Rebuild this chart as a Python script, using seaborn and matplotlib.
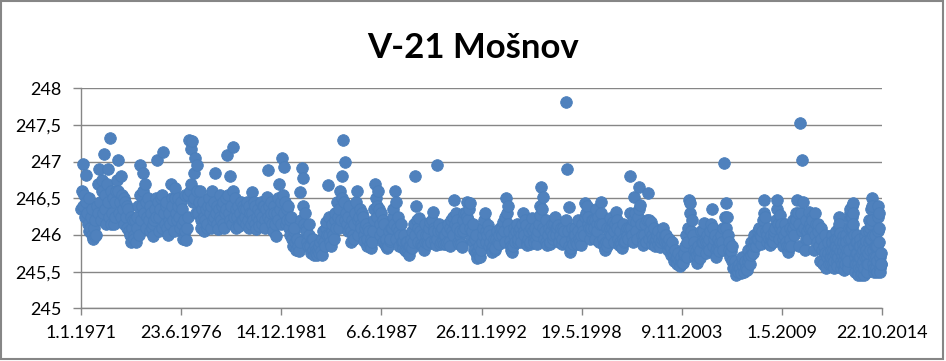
import numpy as np
import pandas as pd
import matplotlib
matplotlib.use("Agg")
import matplotlib.pyplot as plt
import seaborn as sns
from matplotlib.patches import Rectangle

# ---------------- data ----------------
title = "V-21 Mošnov"

# monthly readings 1971-01 .. 2011-12 (groundwater level, m a.s.l.)
levels_monthly = [
    # 1971
    246.35, 246.97, 246.55, 246.82, 246.30, 246.50, 246.10, 246.35, 245.95, 246.20, 246.00, 246.30,
    # 1972
    246.90, 246.20, 246.60, 247.11, 246.35, 246.70, 246.90, 247.32, 246.15, 246.50, 246.25, 246.60,
    # 1973
    247.02, 246.30, 246.80, 246.55, 246.15, 246.45, 246.10, 246.35, 246.00, 245.90, 246.20, 245.95,
    # 1974
    245.90, 246.25, 246.00, 246.95, 246.40, 246.85, 246.70, 246.10, 246.50, 246.05, 246.30, 245.98,
    # 1975
    246.20, 246.50, 247.02, 246.05, 246.35, 246.55, 247.13, 246.15, 246.45, 246.00, 246.30, 246.70,
    # 1976
    246.40, 246.05, 246.64, 246.20, 246.50, 246.10, 246.35, 245.95, 246.55, 245.93, 246.25, 247.30,
    # 1977
    247.17, 247.28, 246.50, 247.05, 246.95, 246.30, 246.60, 246.10, 246.45, 246.05, 246.35, 246.15,
    # 1978
    246.50, 246.10, 246.60, 246.25, 246.84, 246.40, 246.08, 246.55, 246.20, 246.45, 246.10, 246.35,
    # 1979
    247.09, 246.30, 246.80, 246.15, 247.20, 246.50, 246.10, 246.40, 246.12, 246.45, 246.20, 246.35,
    # 1980
    246.15, 246.45, 246.10, 246.30, 246.59, 246.20, 246.40, 246.08, 246.35, 246.12, 246.45, 246.25,
    # 1981
    246.40, 246.10, 246.52, 246.89, 246.20, 246.45, 246.05, 246.30, 245.98, 246.50, 246.70, 246.15,
    # 1982
    247.05, 246.93, 246.45, 246.20, 246.40, 246.00, 246.25, 245.85, 246.10, 245.80, 245.95, 245.78,
    # 1983
    246.59, 246.91, 246.77, 246.30, 246.05, 245.85, 246.15, 245.75, 245.95, 245.72, 245.80, 245.72,
    # 1984
    245.75, 245.90, 245.72, 246.05, 245.85, 246.18, 246.68, 246.00, 245.85, 246.15, 245.95, 246.30,
    # 1985
    246.45, 246.10, 246.60, 246.80, 247.30, 247.00, 246.30, 246.05, 246.40, 245.90, 246.20, 245.95,
    # 1986
    246.30, 246.60, 246.00, 246.36, 246.10, 246.25, 245.92, 246.15, 245.95, 246.05, 245.82, 245.90,
    # 1987
    246.20, 246.70, 246.40, 246.60, 246.00, 246.30, 245.90, 246.15, 245.85, 245.82, 246.05, 245.95,
    # 1988
    246.10, 246.36, 246.60, 245.95, 246.25, 245.85, 246.15, 245.82, 246.00, 245.78, 245.90, 245.73,
    # 1989
    245.85, 246.05, 245.90, 246.80, 246.39, 246.10, 246.23, 245.88, 246.00, 245.80, 246.15, 245.90,
    # 1990
    246.00, 246.18, 245.90, 246.32, 246.05, 245.86, 246.95, 246.15, 245.90, 246.10, 245.88, 246.00,
    # 1991
    245.90, 246.15, 245.85, 246.20, 246.00, 246.48, 246.30, 246.10, 245.88, 246.05, 245.84, 246.20,
    # 1992
    246.10, 246.45, 246.20, 246.43, 245.95, 246.15, 245.80, 246.00, 245.68, 245.85, 245.70, 245.90,
    # 1993
    246.10, 246.30, 245.90, 246.14, 245.85, 246.00, 245.77, 245.95, 245.82, 246.05, 245.88, 246.10,
    # 1994
    246.00, 246.18, 245.90, 246.50, 246.39, 246.05, 245.85, 245.77, 246.10, 245.90, 246.15, 245.95,
    # 1995
    246.10, 245.90, 246.30, 246.00, 246.14, 245.86, 246.05, 245.90, 246.23, 245.95, 246.10, 245.88,
    # 1996
    246.05, 246.27, 246.66, 246.52, 245.95, 246.20, 245.86, 246.10, 245.90, 246.15, 246.00, 246.25,
    # 1997
    246.00, 246.14, 245.90, 246.10, 245.95, 246.05, 247.82, 246.90, 246.38, 245.77, 246.10, 245.88,
    # 1998
    246.10, 245.90, 246.20, 245.95, 245.86, 246.15, 246.00, 246.43, 246.39, 246.25, 245.95, 246.10,
    # 1999
    246.20, 245.95, 246.35, 246.05, 245.90, 246.45, 246.15, 245.88, 245.80, 246.10, 245.90, 246.23,
    # 2000
    246.00, 246.18, 245.90, 246.32, 246.10, 245.86, 246.05, 245.82, 246.15, 245.92, 246.10, 245.95,
    # 2001
    246.80, 246.10, 245.90, 246.52, 246.18, 245.95, 246.66, 246.41, 246.00, 245.86, 246.15, 245.90,
    # 2002
    246.57, 245.95, 246.18, 245.88, 246.10, 245.85, 246.00, 246.05, 245.84, 245.95, 246.09, 245.90,
    # 2003
    246.00, 245.80, 245.95, 245.72, 245.90, 245.65, 245.80, 245.60, 245.75, 245.58, 245.70, 245.62,
    # 2004
    245.75, 246.00, 245.70, 246.48, 246.43, 246.21, 245.90, 245.70, 245.62, 245.85, 245.68, 246.05,
    # 2005
    245.90, 246.16, 245.75, 246.00, 245.80, 246.05, 246.36, 245.85, 246.00, 245.70, 245.95, 245.78,
    # 2006
    246.00, 245.80, 246.98, 246.43, 246.25, 245.90, 245.70, 245.85, 245.55, 245.65, 245.45, 245.50,
    # 2007
    245.60, 245.48, 245.70, 245.50, 245.65, 245.52, 245.80, 245.60, 245.90, 245.75, 246.00, 245.85,
    # 2008
    245.95, 246.10, 245.88, 246.05, 246.48, 246.25, 245.90, 246.09, 245.86, 246.00, 245.90, 246.05,
    # 2009
    246.20, 246.48, 245.95, 246.27, 246.05, 245.85, 246.15, 245.90, 245.77, 246.10, 245.85, 246.20,
    # 2010
    246.00, 246.30, 246.47, 245.85, 247.52, 247.02, 246.45, 245.80, 246.20, 245.95, 246.32, 246.10,
    # 2011
    246.20, 245.80, 246.30, 245.90, 246.15, 245.65, 246.10, 245.60, 246.00, 245.55, 245.90, 245.60,
]

# mid-month readings 1971-01 .. 2011-12 (the 16th of each month)
levels_midmonth = [
    # 1971
    246.60, 246.40, 246.25, 246.45, 246.15, 246.05, 246.25, 246.00, 246.10, 245.98, 246.40, 246.70,
    # 1972
    246.45, 246.75, 246.30, 246.55, 246.15, 246.45, 246.25, 246.60, 246.30, 246.15, 246.45, 246.75,
    # 1973
    246.60, 246.45, 246.25, 246.35, 246.50, 246.25, 246.40, 246.05, 246.25, 246.10, 246.00, 246.20,
    # 1974
    246.10, 246.40, 246.55, 246.20, 246.60, 246.30, 246.45, 246.25, 246.20, 246.40, 246.10, 246.15,
    # 1975
    246.35, 246.25, 246.45, 246.25, 246.50, 246.10, 246.30, 246.40, 246.10, 246.20, 246.15, 246.50,
    # 1976
    246.20, 246.50, 246.30, 246.40, 246.25, 246.45, 246.15, 246.20, 246.05, 246.10, 246.55, 246.60,
    # 1977
    246.70, 246.45, 246.85, 246.30, 246.60, 246.45, 246.20, 246.35, 246.25, 246.20, 246.10, 246.40,
    # 1978
    246.30, 246.40, 246.20, 246.45, 246.30, 246.15, 246.35, 246.25, 246.40, 246.15, 246.30, 246.50,
    # 1979
    246.55, 246.20, 246.40, 246.60, 246.25, 246.35, 246.25, 246.15, 246.30, 246.20, 246.40, 246.25,
    # 1980
    246.35, 246.20, 246.40, 246.15, 246.30, 246.45, 246.15, 246.25, 246.20, 246.30, 246.15, 246.40,
    # 1981
    246.20, 246.35, 246.25, 246.40, 246.30, 246.15, 246.40, 246.15, 246.30, 246.20, 246.35, 246.45,
    # 1982
    246.55, 246.30, 246.15, 246.35, 246.10, 246.20, 245.95, 246.05, 245.90, 245.95, 245.85, 245.90,
    # 1983
    246.20, 246.40, 246.15, 246.10, 245.90, 246.00, 245.85, 245.95, 245.80, 245.85, 245.75, 245.80,
    # 1984
    245.85, 245.78, 245.95, 245.90, 246.10, 246.00, 246.25, 245.90, 246.05, 246.00, 246.20, 246.10,
    # 1985
    246.25, 246.35, 246.20, 246.50, 246.45, 246.20, 246.15, 246.25, 246.10, 246.05, 246.00, 246.15,
    # 1986
    246.45, 246.20, 246.25, 246.15, 246.30, 246.00, 246.10, 245.85, 246.10, 245.88, 245.95, 246.05,
    # 1987
    246.35, 246.50, 246.25, 246.35, 246.15, 246.05, 246.20, 245.88, 245.95, 245.85, 245.92, 246.10,
    # 1988
    246.25, 246.15, 246.45, 246.10, 246.05, 246.00, 245.90, 245.92, 245.80, 245.90, 245.78, 245.85,
    # 1989
    245.95, 245.82, 246.15, 246.00, 246.20, 245.90, 246.05, 245.85, 245.85, 245.90, 246.00, 245.88,
    # 1990
    246.10, 245.90, 246.20, 246.10, 245.92, 245.95, 246.05, 245.88, 246.05, 245.92, 246.00, 245.88,
    # 1991
    246.05, 245.90, 246.10, 246.05, 246.25, 246.15, 246.20, 245.90, 246.00, 245.88, 246.05, 246.30,
    # 1992
    246.30, 246.25, 246.35, 246.10, 246.05, 245.90, 245.95, 245.75, 245.78, 245.72, 245.80, 246.00,
    # 1993
    246.20, 246.05, 246.00, 246.05, 245.90, 245.82, 245.85, 245.80, 245.95, 245.90, 246.00, 246.05,
    # 1994
    246.10, 246.05, 246.25, 246.30, 246.15, 245.92, 245.80, 245.85, 246.00, 246.05, 245.90, 246.05,
    # 1995
    246.00, 246.15, 246.05, 246.20, 245.90, 245.95, 245.88, 246.10, 246.05, 245.90, 245.95, 246.00,
    # 1996
    246.15, 246.40, 246.35, 246.10, 246.05, 245.90, 246.00, 245.88, 246.05, 245.95, 246.15, 246.10,
    # 1997
    246.10, 245.92, 246.00, 245.88, 246.10, 245.90, 246.20, 246.05, 245.85, 245.82, 245.95, 246.00,
    # 1998
    246.00, 245.88, 246.05, 245.90, 246.00, 246.05, 246.25, 246.30, 246.15, 246.10, 246.05, 246.20,
    # 1999
    246.10, 246.20, 246.15, 246.25, 246.15, 246.30, 245.95, 245.85, 245.90, 245.85, 246.05, 246.10,
    # 2000
    246.10, 246.05, 246.15, 246.20, 245.95, 245.90, 245.88, 245.95, 245.90, 246.05, 245.98, 246.10,
    # 2001
    246.30, 246.00, 246.20, 246.30, 246.05, 246.25, 246.35, 246.15, 245.92, 246.00, 245.90, 246.20,
    # 2002
    246.20, 246.05, 246.00, 245.95, 245.92, 245.95, 245.88, 245.95, 245.90, 246.00, 245.95, 246.00,
    # 2003
    245.90, 245.88, 245.85, 245.82, 245.75, 245.72, 245.68, 245.70, 245.65, 245.65, 245.62, 245.72,
    # 2004
    245.85, 245.90, 246.10, 246.30, 246.05, 246.00, 245.80, 245.78, 245.72, 245.75, 245.80, 245.90,
    # 2005
    246.05, 245.95, 245.90, 245.90, 245.95, 246.15, 246.10, 245.95, 245.80, 245.82, 245.85, 245.90,
    # 2006
    245.90, 246.10, 246.25, 246.10, 246.00, 245.80, 245.78, 245.65, 245.60, 245.55, 245.52, 245.58,
    # 2007
    245.55, 245.60, 245.58, 245.62, 245.55, 245.65, 245.70, 245.72, 245.82, 245.85, 245.92, 245.95,
    # 2008
    246.05, 246.00, 245.98, 246.20, 246.30, 246.05, 246.00, 245.95, 245.95, 245.92, 246.00, 246.10,
    # 2009
    246.35, 246.15, 246.10, 246.15, 245.95, 246.00, 246.05, 245.85, 245.85, 245.95, 246.05, 246.10,
    # 2010
    246.15, 246.20, 246.30, 246.15, 246.30, 246.05, 246.10, 245.95, 246.05, 246.10, 246.15, 246.25,
    # 2011
    246.05, 246.00, 246.15, 246.05, 245.85, 245.95, 245.80, 245.85, 245.75, 245.70, 245.75, 245.70,
]

# weekly readings from 2012-01-01 on
levels_weekly = [
    # 2012
    245.60, 245.70, 245.80, 245.90, 246.00, 245.90, 245.80, 245.70, 245.60, 245.55,
    245.65, 245.75, 245.85, 245.95, 246.05, 245.95, 245.85, 245.75, 245.65, 245.58,
    245.70, 245.82, 245.95, 246.10, 246.25, 246.15, 246.02, 245.90, 245.78, 245.65,
    245.55, 245.60, 245.72, 245.85, 245.98, 245.90, 245.78, 245.66, 245.56, 245.52,
    245.60, 245.72, 245.85, 245.95, 246.00, 245.90, 245.80, 245.70, 245.60, 245.55,
    245.65, 245.80,
    # 2013
    245.95, 246.10, 246.20, 246.30, 246.35, 246.25, 246.10, 245.95, 246.10, 246.25,
    246.40, 246.43, 246.30, 246.15, 246.00, 245.85, 245.70, 245.60, 245.50, 245.60,
    245.75, 245.90, 246.00, 245.90, 245.75, 245.60, 245.48, 245.45, 245.55, 245.70,
    245.85, 245.95, 245.85, 245.70, 245.55, 245.45, 245.48, 245.60, 245.75, 245.88,
    245.80, 245.65, 245.52, 245.46, 245.55, 245.70, 245.85, 245.98, 246.05, 245.92,
    245.80, 245.70,
    # 2014
    245.60, 245.50, 245.60, 245.75, 245.90, 246.05, 246.20, 246.10, 245.95, 245.80,
    245.95, 246.15, 246.35, 246.50, 246.40, 246.20, 246.00, 245.80, 245.60, 245.50,
    245.55, 245.70, 245.85, 246.00, 245.85, 245.70, 245.55, 245.50, 245.65, 245.85,
    246.05, 246.25, 246.40, 246.30, 246.10, 245.90, 245.70, 245.55, 245.50, 245.60,
    245.75, 245.60,
]

x_tick_labels = ["1.1.1971", "23.6.1976", "14.12.1981", "6.6.1987", "26.11.1992",
                 "19.5.1998", "9.11.2003", "1.5.2009", "22.10.2014"]
y_ticks = [245, 245.5, 246, 246.5, 247, 247.5, 248]
y_tick_labels = ["245", "245,5", "246", "246,5", "247", "247,5", "248"]

# ---------------- frame ----------------
dates_monthly = pd.date_range("1971-01-01", periods=len(levels_monthly), freq="MS")
dates_midmonth = dates_monthly + pd.Timedelta(days=15)
dates_weekly = pd.date_range("2012-01-01", periods=len(levels_weekly), freq="7D")
df = pd.DataFrame({
    "date": list(dates_monthly) + list(dates_midmonth) + list(dates_weekly),
    "level": levels_monthly + levels_midmonth + levels_weekly,
}).sort_values("date")

# ---------------- plot ----------------
sns.set_theme(style="white")
plt.rcParams["font.family"] = ["Lato", "DejaVu Sans"]

W, H = 946, 361
fig = plt.figure(figsize=(W / 100, H / 100), dpi=100)
ax = fig.add_axes([81 / W, 1 - 308.3 / H, (882 - 81) / W, 220 / H])

grid_c = "#868686"
sns.scatterplot(data=df, x="date", y="level", ax=ax, s=70, color="#4F81BD",
                edgecolor="#4A7EBB", linewidth=0.6, legend=False, zorder=3,
                clip_on=False)

tick_dates = pd.to_datetime(x_tick_labels, format="%d.%m.%Y")
ax.set_xlim(tick_dates[0], tick_dates[-1])
ax.set_ylim(245, 248)
ax.set_yticks(y_ticks)
ax.set_yticklabels(y_tick_labels)
ax.set_xticks(tick_dates)
ax.set_xticklabels(x_tick_labels)
ax.set_xlabel("")
ax.set_ylabel("")

ax.set_axisbelow(True)
ax.grid(axis="y", color=grid_c, linewidth=1)
ax.grid(axis="x", visible=False)
for s in ["top", "right"]:
    ax.spines[s].set_visible(False)
for s in ["left", "bottom"]:
    ax.spines[s].set_color(grid_c)
    ax.spines[s].set_linewidth(1)

ax.tick_params(axis="y", left=True, length=6, width=1, color=grid_c, pad=8,
               labelsize=13, labelcolor="black")
ax.tick_params(axis="x", bottom=True, length=5, width=1, color=grid_c, pad=7,
               labelsize=13, labelcolor="black")

fig.text(0.5, 1 - 58 / H, title, ha="center", va="baseline",
         fontsize=25, fontweight="bold", color="black")

fig.patches.append(Rectangle((1 / W, 1 - 359 / H), 942 / W, 358 / H,
                             transform=fig.transFigure, fill=False,
                             edgecolor=grid_c, linewidth=1.5))

fig.savefig("out.png", dpi=100)
